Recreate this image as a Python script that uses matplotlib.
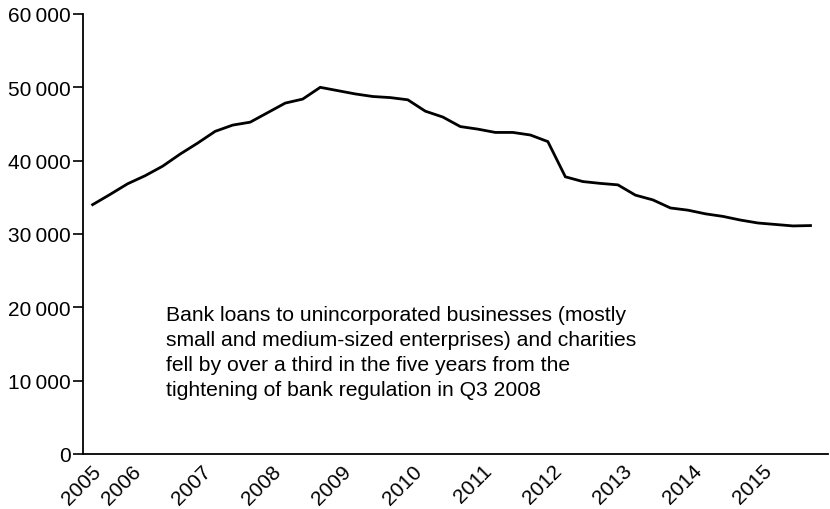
import matplotlib
matplotlib.use("Agg")
import matplotlib.pyplot as plt
from matplotlib.ticker import FuncFormatter

plt.rcParams['font.family'] = ['Liberation Sans', 'DejaVu Sans']

# quarterly bank loans, 2005 Q2 .. 2015 Q3
quarters = [f"{2005 + (q + 1) // 4} Q{(q + 1) % 4 + 1}" for q in range(42)]
loans = [34000, 35400, 36850, 37950, 39250, 40900, 42400, 44000, 44850, 45250,
         46550, 47850, 48400, 50000, 49550, 49100, 48750, 48600, 48300, 46750,
         45950, 44650, 44300, 43850, 43850, 43500, 42600, 37800, 37150, 36900,
         36700, 35300, 34650, 33550, 33250, 32750, 32400, 31900, 31500, 31300,
         31100, 31150]

year_labels = ['2005', '2006', '2007', '2008', '2009', '2010',
               '2011', '2012', '2013', '2014', '2015']
year_ticks = [0.7, 3, 7, 11, 15, 19, 23, 27, 31, 35, 39]

note = ("Bank loans to unincorporated businesses (mostly\n"
        "small and medium-sized enterprises) and charities\n"
        "fell by over a third in the five years from the\n"
        "tightening of bank regulation in Q3 2008")

fig = plt.figure(figsize=(8.3, 5.1), dpi=100)
ax = fig.add_axes([83 / 830, 55 / 510, 745 / 830, 440 / 510])

ax.plot(range(len(loans)), loans, color='black', lw=2, solid_joinstyle='miter')

ax.set_xlim(-0.55, 42.0)
ax.set_ylim(0, 60000)
ax.set_yticks(range(0, 60001, 10000))
ax.yaxis.set_major_formatter(FuncFormatter(lambda v, p: f"{int(v):,}".replace(',', '\u2009')))
ax.set_xticks(year_ticks)
ax.set_xticklabels(year_labels, rotation=45, ha='right')

for s in ['top', 'right']:
    ax.spines[s].set_visible(False)
for s in ['left', 'bottom']:
    ax.spines[s].set_linewidth(1.3)

ax.tick_params(axis='y', length=7, width=1.2, labelsize=15, pad=2)
ax.tick_params(axis='x', length=0, labelsize=15, pad=5)

ax.text(4.2, 20250, note, fontsize=15.2, va='top', ha='left', linespacing=1.4)

fig.savefig('out.png', dpi=100)
